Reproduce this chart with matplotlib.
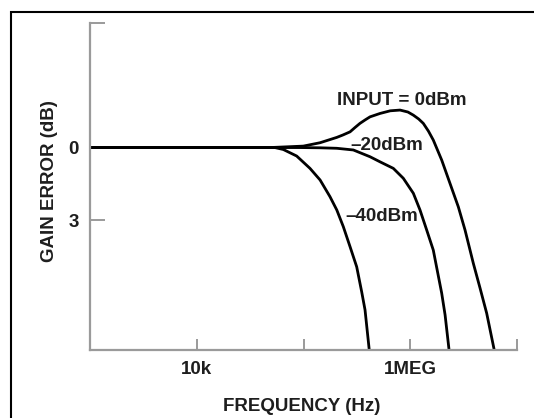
import matplotlib
matplotlib.use("Agg")
import matplotlib.pyplot as plt
from matplotlib.patches import Rectangle

# frequency (Hz) vs gain error (dB)
freq_0dbm = [1e3, 48.5e3, 99.6e3, 143e3, 205e3, 234e3, 273e3, 304e3, 338e3,
             380e3, 420e3, 521e3, 650e3, 802e3, 950e3, 1.069e6, 1.2e6,
             1.325e6, 1.48e6, 1.644e6, 1.972e6, 2.356e6, 2.82e6, 3.26e6,
             3.9e6, 4.5e6, 5.2e6, 6.12e6]
gain_0dbm = [0, 0, -0.06, -0.2, -0.42, -0.52, -0.65, -0.83, -1.0,
             -1.15, -1.27, -1.41, -1.52, -1.55, -1.47, -1.34, -1.18,
             -1.0, -0.68, -0.31, 0.52, 1.48, 2.45, 3.41,
             4.79, 5.8, 6.85, 8.37]

freq_20dbm = [1e3, 92.7e3, 143e3, 205e3, 293e3, 420e3, 521e3, 694e3, 861e3,
              1.069e6, 1.234e6, 1.426e6, 1.644e6, 1.97e6, 2.12e6, 2.31e6]
gain_20dbm = [0, 0, 0.01, 0.03, 0.1, 0.38, 0.59, 0.86, 1.27,
              1.89, 2.58, 3.41, 4.24, 6.02, 6.92, 8.37]

freq_40dbm = [1e3, 54e3, 64.7e3, 86.3e3, 115e3, 143e3, 177e3, 205e3, 236e3,
              273e3, 315e3, 351e3, 377e3, 413e3]
gain_40dbm = [0, 0, 0.08, 0.35, 0.86, 1.34, 2.03, 2.58, 3.27,
              4.1, 4.93, 5.97, 6.71, 8.37]

x_ticks = [1e4, 1e5, 1e6, 1e7]
x_ticklabels = ["10k", "", "1MEG", ""]
y_top, y_bottom = -5.15, 8.37
y_ticks = [y_top, 0, 3]
y_ticklabels = ["", "0", "3"]

plt.rcParams['font.family'] = ['Liberation Sans', 'DejaVu Sans']

fig = plt.figure(figsize=(5.34, 4.18), dpi=100)
ax = fig.add_axes([90 / 534, 1 - 350 / 418, 427 / 534, 327 / 418])

for f, g in [(freq_0dbm, gain_0dbm), (freq_20dbm, gain_20dbm), (freq_40dbm, gain_40dbm)]:
    ax.plot(f, g, color='black', lw=2.0, solid_capstyle='butt',
            solid_joinstyle='round', clip_on=False)

ax.set_xscale('log')
ax.set_xlim(1e3, 1e7)
ax.set_ylim(y_bottom, y_top)
ax.set_xticks(x_ticks)
ax.set_xticklabels(x_ticklabels)
ax.xaxis.set_minor_locator(matplotlib.ticker.NullLocator())
ax.set_yticks(y_ticks)
ax.set_yticklabels(y_ticklabels)

grey = '#9a9a9a'
ink = '#1e1e1e'
fs = 13.5
for s in ['top', 'right']:
    ax.spines[s].set_visible(False)
for s in ['left', 'bottom']:
    ax.spines[s].set_color(grey)
    ax.spines[s].set_linewidth(1.6)
ax.tick_params(axis='x', direction='in', length=8, width=1.4, color=grey,
               pad=8, labelsize=fs, labelcolor=ink)
ax.tick_params(axis='y', direction='in', length=11, width=1.4, color=grey,
               pad=8, labelsize=fs, labelcolor=ink)
for lbl in ax.get_xticklabels() + ax.get_yticklabels():
    lbl.set_fontweight('bold')

ax.set_xlabel('FREQUENCY (Hz)', fontsize=fs, fontweight='bold', color=ink, va='center')
ax.xaxis.set_label_coords(0.495, -0.172)
ax.set_ylabel('GAIN ERROR (dB)', fontsize=fs, fontweight='bold', color=ink, va='center')
ax.yaxis.set_label_coords(-0.094, 0.517)

txt = dict(fontsize=fs, fontweight='bold', color=ink)
ax.text(838e3, -1.95, 'INPUT = 0dBm', ha='center', va='center', **txt)
ax.text(273e3, -0.1, '\u201320dBm', ha='left', va='center', **txt)
ax.text(245e3, 2.83, '\u201340dBm', ha='left', va='center', **txt)

# outer frame, runs off the right and bottom edges
fig.patches.append(Rectangle((11 / 534, -0.1), 1.0, 1 - 12 / 418 + 0.1,
                             transform=fig.transFigure, fill=False,
                             edgecolor='black', lw=1.5))

fig.savefig('out.png', dpi=100)
